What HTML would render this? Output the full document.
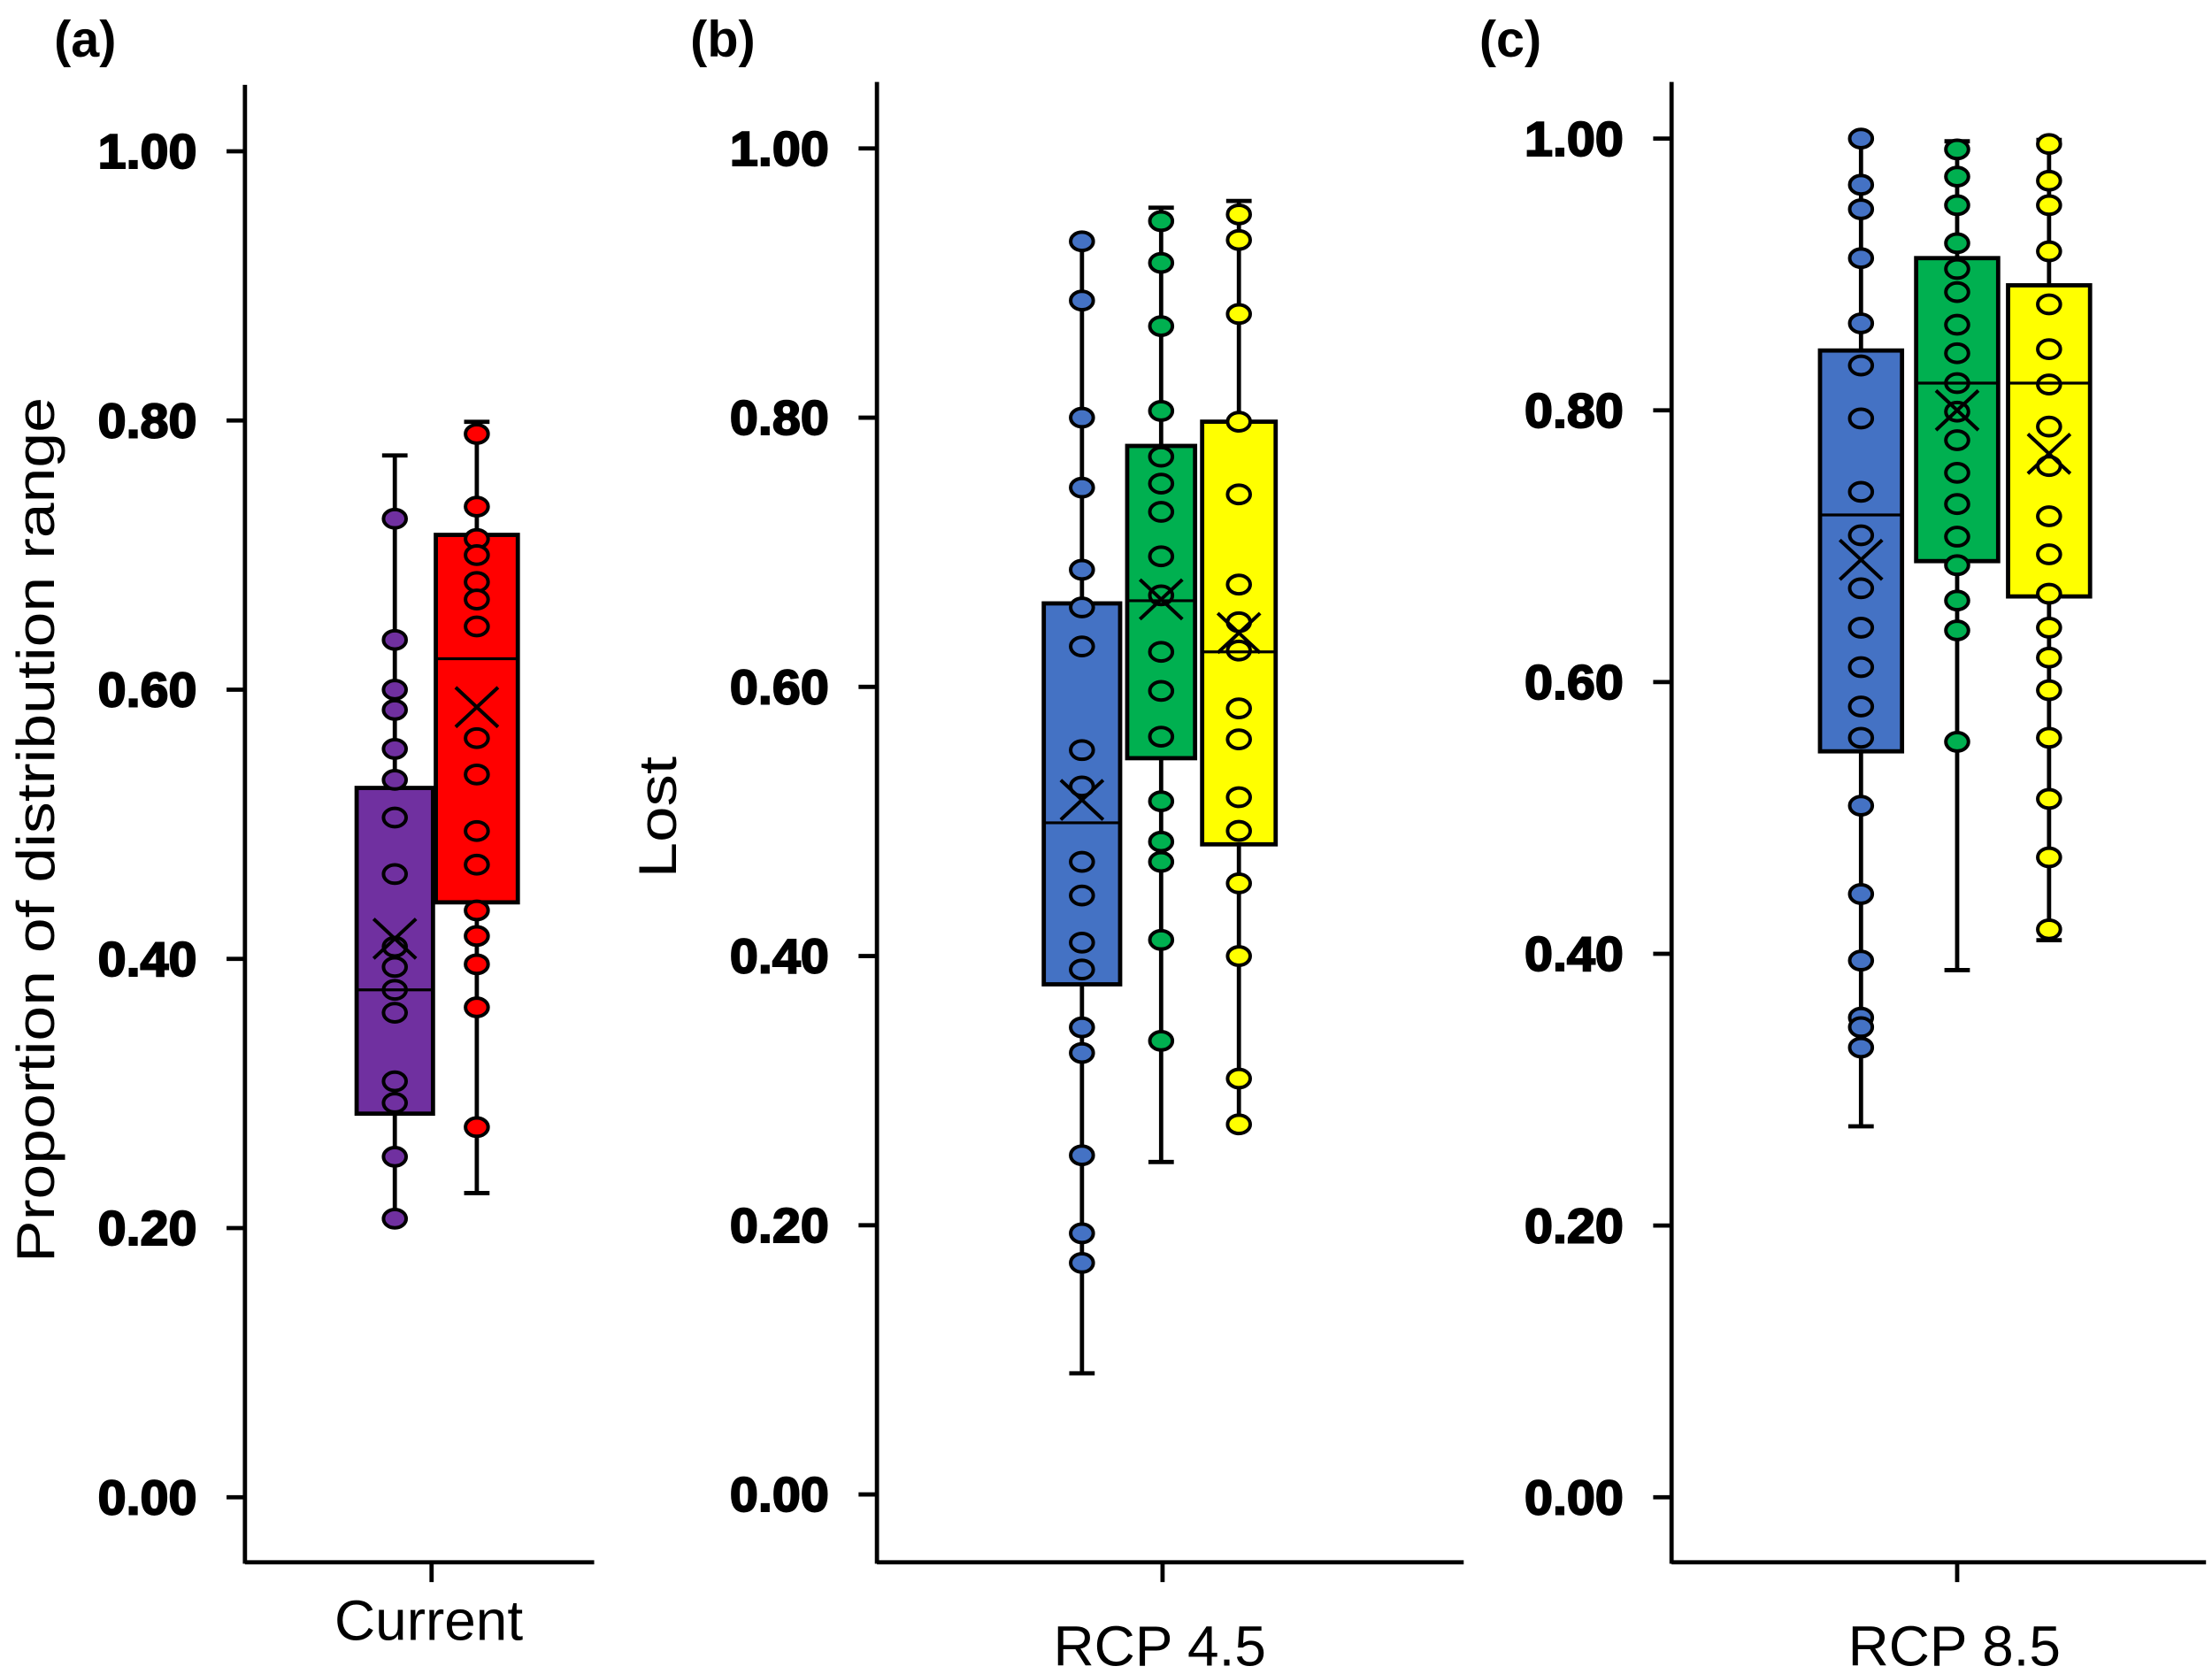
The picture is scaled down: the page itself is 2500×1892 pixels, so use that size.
<!DOCTYPE html>
<html><head><meta charset="utf-8"><style>
html,body{margin:0;padding:0;background:#fff;}
svg{display:block;}
text{font-family:"Liberation Sans",Arial,sans-serif;}
</style></head>
<body>
<svg id="chart" width="2500" height="1892" viewBox="0 0 1564 1184" xmlns="http://www.w3.org/2000/svg">
<text x="38" y="40" font-size="36" font-weight="bold">(a)</text>
<text x="488" y="40" font-size="36" font-weight="bold">(b)</text>
<text x="1046" y="40" font-size="36" font-weight="bold">(c)</text>
<text transform="translate(38,587) rotate(-90)" text-anchor="middle" font-size="38" textLength="612" lengthAdjust="spacingAndGlyphs">Proportion of distribution range</text>
<text transform="translate(478,578) rotate(-90)" text-anchor="middle" font-size="38" textLength="86" lengthAdjust="spacingAndGlyphs">Lost</text>
<g id="plots"></g>
</svg>
<script>
const tickValues = [0, 0.2, 0.4, 0.6, 0.8, 1.0];
const tickLabels = ["0.00", "0.20", "0.40", "0.60", "0.80", "1.00"];
const panelNames = ["Current", "RCP 4.5", "RCP 8.5"];
const seriesColors = [["#7030a0", "#ff0000"], ["#4472c4", "#00b050", "#ffff00"], ["#4472c4", "#00b050", "#ffff00"]];
// box stats: [whiskerLow, q1, median, q3, whiskerHigh, mean]
const statsA = [[0.207, 0.285, 0.377, 0.527, 0.774, 0.415], [0.226, 0.442, 0.623, 0.715, 0.799, 0.587]];
const statsB = [[0.09, 0.379, 0.499, 0.662, 0.931, 0.516], [0.247, 0.547, 0.664, 0.779, 0.956, 0.665], [0.275, 0.483, 0.626, 0.797, 0.961, 0.64]];
const statsC = [[0.273, 0.549, 0.723, 0.844, 1.0, 0.69], [0.388, 0.689, 0.82, 0.912, 0.998, 0.80], [0.41, 0.663, 0.82, 0.892, 0.999, 0.768]];
const pointsA = [
 [0.727,0.637,0.60,0.585,0.556,0.533,0.505,0.463,0.409,0.394,0.377,0.36,0.309,0.293,0.253,0.207],
 [0.79,0.736,0.712,0.70,0.68,0.667,0.647,0.564,0.537,0.495,0.47,0.436,0.417,0.396,0.364,0.275]];
const pointsB = [
 [0.931,0.887,0.80,0.748,0.687,0.659,0.63,0.553,0.526,0.47,0.445,0.41,0.39,0.347,0.328,0.252,0.194,0.172],
 [0.946,0.915,0.868,0.805,0.771,0.751,0.73,0.697,0.668,0.626,0.597,0.563,0.515,0.485,0.47,0.412,0.337],
 [0.951,0.932,0.877,0.797,0.743,0.676,0.648,0.627,0.584,0.561,0.518,0.493,0.454,0.40,0.309,0.275]];
const pointsC = [
 [1.0,0.966,0.948,0.912,0.864,0.833,0.794,0.74,0.708,0.669,0.64,0.611,0.582,0.559,0.509,0.444,0.395,0.353,0.346,0.331],
 [0.992,0.972,0.951,0.923,0.904,0.887,0.863,0.842,0.82,0.799,0.778,0.754,0.731,0.707,0.686,0.66,0.638,0.556],
 [0.996,0.969,0.951,0.917,0.878,0.845,0.819,0.788,0.759,0.722,0.694,0.665,0.64,0.618,0.594,0.559,0.514,0.471,0.418]];

const panels = [
 {axisX:173, top:60, y0:1059, y1:107, xEnd:420, tickX:305, centers:[279,337], halfW:[27,29], stats:statsA, pts:pointsA, labelY:1160},
 {axisX:620, top:58, y0:1057, y1:105, xEnd:1035, tickX:822, centers:[765,821,876], halfW:[27,24,26], stats:statsB, pts:pointsB, labelY:1178},
 {axisX:1182, top:58, y0:1059, y1:98, xEnd:1560, tickX:1384, centers:[1316,1384,1449], halfW:[29,29,29], stats:statsC, pts:pointsC, labelY:1178}
];
const NS = "http://www.w3.org/2000/svg";
const root = document.getElementById("plots");
function mk(tag, attrs, parent){const e=document.createElementNS(NS,tag);for(const k in attrs)e.setAttribute(k,attrs[k]);(parent||root).appendChild(e);return e;}

panels.forEach((p, pi) => {
  const yScale = v => p.y0 + (p.y1 - p.y0) * v;
  const g = mk("g", {});
  
  
  const ya = mk("line", {x1:p.axisX, y1:p.top, x2:p.axisX, y2:1106, stroke:"#000", "stroke-width":3}, g);
  
  
  const xa = mk("line", {x1:p.axisX, y1:1105, x2:p.xEnd, y2:1105, stroke:"#000", "stroke-width":3}, g);
  
  
  const xt = mk("line", {x1:p.tickX, y1:1105, x2:p.tickX, y2:1119, stroke:"#000", "stroke-width":3}, g);
  
  
  const xl = mk("text", {x:p.tickX - 2, y:p.labelY, "text-anchor":"middle", "font-size":40}, g);
  xl.textContent = panelNames[pi];
  
  
  tickValues.forEach((v, i) => {
    const y = yScale(v);
    const t = mk("line", {x1:p.axisX - 13, y1:y, x2:p.axisX, y2:y, stroke:"#000", "stroke-width":3}, g);
    
    
    const tl = mk("text", {x:p.axisX - 34, y:y + 12, "text-anchor":"end", "font-size":34, "font-weight":"bold", stroke:"#000", "stroke-width":1.2, textLength:70, lengthAdjust:"spacingAndGlyphs"}, g);
    tl.textContent = tickLabels[i];
    
    
  });
  p.stats.forEach((s, si) => {
    const cx = p.centers[si], hw = p.halfW[si], col = seriesColors[pi][si];
    const sg = mk("g", {}, g);
    
    
    const wl = mk("line", {x1:cx, y1:yScale(s[0]), x2:cx, y2:yScale(s[4]), stroke:"#000", "stroke-width":3}, sg);
    
    
    [s[0], s[4]].forEach(v => {
      const c = mk("line", {x1:cx - 9, y1:yScale(v), x2:cx + 9, y2:yScale(v), stroke:"#000", "stroke-width":3}, sg);
      
      
    });
    const b = mk("rect", {x:cx - hw, y:yScale(s[3]), width:hw*2, height:yScale(s[1]) - yScale(s[3]), fill:col, stroke:"#000", "stroke-width":3}, sg);
    
    
    p.pts[si].forEach(v => {
      const d = mk("ellipse", {cx:cx, cy:yScale(v), rx:8, ry:6.5, fill:col, stroke:"#000", "stroke-width":2.5}, sg);
      
      
    });
    const m = mk("line", {x1:cx - hw, y1:yScale(s[2]), x2:cx + hw, y2:yScale(s[2]), stroke:"#000", "stroke-width":2}, sg);
    
    
    const my = yScale(s[5]);
    const x1 = mk("path", {d:`M${cx-15},${my-14}L${cx+15},${my+14}M${cx-15},${my+14}L${cx+15},${my-14}`, stroke:"#000", "stroke-width":2.5, fill:"none"}, sg);
    
    
  });
});
</script>
</body></html>
